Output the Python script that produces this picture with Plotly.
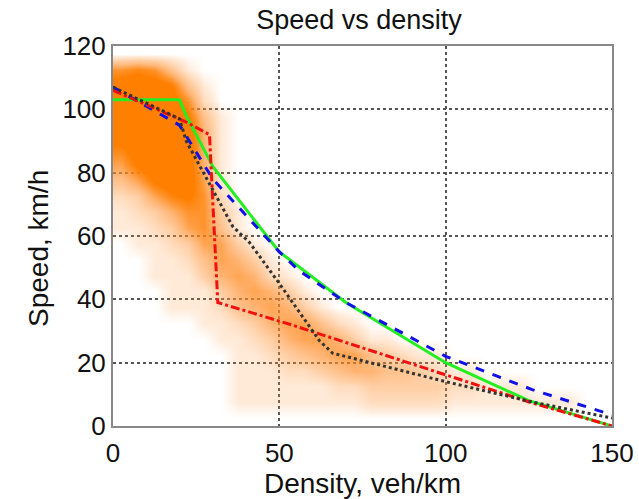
import plotly.graph_objects as go

# ---- scatter-cloud density, 5x5 cells ----
x_centers = [2.5 + 5 * i for i in range(30)]
y_centers = [2.5 + 5 * j for j in range(24)]

# rows listed from y=2.5 (bottom) upward
density_rows = [
    [0,0,0,0,0,0,0,0,0,0,0,0,0,0,0,0,0,0,0,0,0,0,0,0,0,0,0,0,0,0],            # 2.5
    [0,0,0,0,0,0,0,1,1,1,1,1,1,1,1,2,2,2,2,2,1,1,1,1,1,1,1,1,0,0],            # 7.5
    [0,0,0,0,0,0,0,1,1,1,1,1,1,2,2,3,3,3,3,3,2,2,1,1,1,0,0,0,0,0],            # 12.5
    [0,0,0,0,0,0,0,1,1,1,2,2,3,4,5,5,4,4,3,2,1,1,0,0,0,0,0,0,0,0],            # 17.5
    [0,0,0,0,0,0,0,1,1,2,3,4,5,6,6,4,3,2,1,1,0,0,0,0,0,0,0,0,0,0],            # 22.5
    [0,0,0,0,0,0,1,1,2,3,5,6,6,5,3,1,1,0,0,0,0,0,0,0,0,0,0,0,0,0],            # 27.5
    [0,0,0,0,0,1,1,2,3,5,6,6,4,2,1,0,0,0,0,0,0,0,0,0,0,0,0,0,0,0],            # 32.5
    [0,0,0,1,1,1,2,4,5,6,5,3,1,0,0,0,0,0,0,0,0,0,0,0,0,0,0,0,0,0],            # 37.5
    [0,0,0,1,1,1,3,5,6,5,3,1,0,0,0,0,0,0,0,0,0,0,0,0,0,0,0,0,0,0],            # 42.5
    [0,0,1,1,1,3,5,6,5,2,1,0,0,0,0,0,0,0,0,0,0,0,0,0,0,0,0,0,0,0],            # 47.5
    [0,0,1,1,2,4,6,5,3,1,0,0,0,0,0,0,0,0,0,0,0,0,0,0,0,0,0,0,0,0],            # 52.5
    [0,1,1,2,3,6,6,3,1,0,0,0,0,0,0,0,0,0,0,0,0,0,0,0,0,0,0,0,0,0],            # 57.5
    [1,1,2,3,6,7,4,1,0,0,0,0,0,0,0,0,0,0,0,0,0,0,0,0,0,0,0,0,0,0],            # 62.5
    [1,2,3,5,7,7,3,1,0,0,0,0,0,0,0,0,0,0,0,0,0,0,0,0,0,0,0,0,0,0],            # 67.5
    [2,3,6,8,9,7,2,0,0,0,0,0,0,0,0,0,0,0,0,0,0,0,0,0,0,0,0,0,0,0],            # 72.5
    [4,6,9,10,10,6,1,0,0,0,0,0,0,0,0,0,0,0,0,0,0,0,0,0,0,0,0,0,0,0],          # 77.5
    [6,9,10,10,10,5,1,0,0,0,0,0,0,0,0,0,0,0,0,0,0,0,0,0,0,0,0,0,0,0],         # 82.5
    [8,10,10,10,10,5,1,0,0,0,0,0,0,0,0,0,0,0,0,0,0,0,0,0,0,0,0,0,0,0],        # 87.5
    [10,10,10,10,10,5,1,0,0,0,0,0,0,0,0,0,0,0,0,0,0,0,0,0,0,0,0,0,0,0],       # 92.5
    [10,10,10,10,9,4,1,0,0,0,0,0,0,0,0,0,0,0,0,0,0,0,0,0,0,0,0,0,0,0],        # 97.5
    [10,10,10,10,7,2,0,0,0,0,0,0,0,0,0,0,0,0,0,0,0,0,0,0,0,0,0,0,0,0],        # 102.5
    [10,10,10,9,4,1,0,0,0,0,0,0,0,0,0,0,0,0,0,0,0,0,0,0,0,0,0,0,0,0],         # 107.5
    [7,8,7,4,1,0,0,0,0,0,0,0,0,0,0,0,0,0,0,0,0,0,0,0,0,0,0,0,0,0],            # 112.5
    [0,0,0,0,0,0,0,0,0,0,0,0,0,0,0,0,0,0,0,0,0,0,0,0,0,0,0,0,0,0],            # 117.5
]

# ---- model curves ----
green_x = [0, 20, 22, 30, 44, 50, 70, 100, 125, 150]
green_y = [103, 103, 98, 82, 63, 55, 39, 20, 8, 0]

blue_x = [0, 20, 30, 43, 50, 56, 70, 100, 126, 150]
blue_y = [107, 95, 78, 63, 55, 49, 39, 22, 11.5, 3.5]

red_x = [0, 22, 29, 31.5, 52, 71, 100, 126, 150]
red_y = [106, 96, 92, 39, 32.5, 26, 16, 7.3, 0]

black_x = [0, 20, 22, 36, 41, 50, 62, 66, 100, 126, 150]
black_y = [107, 97, 90, 63, 58, 45, 27, 23, 14, 7.6, 2.5]

x_ticks = [0, 50, 100, 150]
y_ticks = [0, 20, 40, 60, 80, 100, 120]

fig = go.Figure()
fig.add_trace(go.Heatmap(
    x=x_centers, y=y_centers, z=density_rows, zsmooth="best",
    zmin=0, zmax=10, showscale=False, hoverinfo="skip",
    colorscale=[[0, "rgba(255,150,60,0)"], [0.1, "rgba(255,150,60,0.2)"],
                [0.3, "rgba(255,145,50,0.45)"], [0.5, "rgba(255,140,40,0.65)"],
                [0.7, "rgba(255,132,15,0.88)"], [0.85, "rgba(255,128,0,1)"],
                [1, "rgba(255,128,0,1)"]],
))
fig.add_trace(go.Scatter(x=green_x, y=green_y, mode="lines",
                         line=dict(color="#22EE22", width=3), showlegend=False))
fig.add_trace(go.Scatter(x=blue_x, y=blue_y, mode="lines",
                         line=dict(color="#1010E8", width=3, dash="dash"), showlegend=False))
fig.add_trace(go.Scatter(x=red_x, y=red_y, mode="lines",
                         line=dict(color="#F01010", width=3, dash="dashdot"), showlegend=False))
fig.add_trace(go.Scatter(x=black_x, y=black_y, mode="lines",
                         line=dict(color="#333333", width=3, dash="dot"), showlegend=False))

font_family = "Liberation Sans, Arial, sans-serif"
fig.update_layout(
    width=639, height=499,
    margin=dict(l=113, r=27, t=46, b=73, autoexpand=False),
    paper_bgcolor="white", plot_bgcolor="white",
    title=dict(text="Speed vs density", x=359 / 639, xref="container", xanchor="center",
               y=1 - 20 / 499, yref="container", yanchor="middle",
               font=dict(family=font_family, size=27, color="#111111")),
    font=dict(family=font_family, color="#111111"),
    annotations=[dict(text="Speed, km/h", textangle=-90, xref="paper", yref="paper",
                      x=(38 - 113) / 499, y=(426 - 249) / 380, xanchor="center",
                      yanchor="middle", showarrow=False,
                      font=dict(family=font_family, size=28, color="#111111"))],
)
fig.update_xaxes(range=[0, 150], tickvals=x_ticks, ticktext=[str(v) for v in x_ticks],
                 tickfont=dict(size=26), showgrid=True, gridcolor="#555555", griddash="dot",
                 gridwidth=2, showline=True, linecolor="#888888", linewidth=2, mirror=True,
                 zeroline=False, ticks="outside", ticklen=3, tickcolor="rgba(0,0,0,0)",
                 automargin=False,
                 title=dict(text="Density, veh/km", font=dict(size=28), standoff=2))
fig.update_yaxes(range=[0, 120], tickvals=y_ticks, ticktext=[str(v) for v in y_ticks],
                 tickfont=dict(size=26), showgrid=True, gridcolor="#555555", griddash="dot",
                 gridwidth=2, showline=True, linecolor="#888888", linewidth=2, mirror=True,
                 zeroline=False, ticks="", automargin=False)

fig.write_html("out.html")
